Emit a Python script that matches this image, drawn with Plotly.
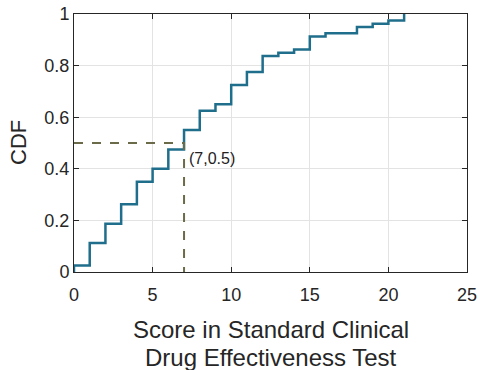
import plotly.graph_objects as go

scores = [0, 1, 2, 3, 4, 5, 6, 7, 8, 9, 10, 11, 12, 13, 14, 15, 16, 18, 19, 20, 21]
cdf_vals = [0.025, 0.1125, 0.1875, 0.2625, 0.35, 0.4, 0.475, 0.55, 0.625, 0.65,
            0.725, 0.775, 0.8375, 0.85, 0.8625, 0.9125, 0.925, 0.95, 0.9625, 0.975, 1.0]
median_x = [7]
median_y = [0.5]
x_ticks = [0, 5, 10, 15, 20, 25]
y_ticks = [0, 0.2, 0.4, 0.6, 0.8, 1]
y_tick_text = ["0", "0.2", "0.4", "0.6", "0.8", "1"]
x_title_lines = ["Score in Standard Clinical", "Drug Effectiveness Test"]
y_title = "CDF"

# build stair coordinates
sx, sy = [scores[0]], [0.0]
for i, (x, y) in enumerate(zip(scores, cdf_vals)):
    sx.append(x); sy.append(y)
    if i + 1 < len(scores):
        sx.append(scores[i + 1]); sy.append(y)

FONT = "Liberation Sans, Arial, Helvetica, sans-serif"
TXT = "#262626"
fig = go.Figure()
fig.add_trace(go.Scatter(x=sx, y=sy, mode="lines",
                         line=dict(color="#1f6e8c", width=2.5),
                         showlegend=False, hoverinfo="skip", cliponaxis=False))
fig.add_trace(go.Scatter(x=[0, median_x[0], median_x[0]], y=[median_y[0], median_y[0], 0],
                         mode="lines", line=dict(color="#6b6b4a", width=2, dash="dash"),
                         showlegend=False, hoverinfo="skip"))
fig.add_annotation(x=median_x[0], y=median_y[0], text="(7,0.5)", showarrow=False,
                   xanchor="left", yanchor="top", xshift=3, yshift=-5,
                   font=dict(family=FONT, size=16, color="#222222"))
# y-axis title
fig.add_annotation(xref="paper", yref="paper", x=0, y=0.5, text=y_title, textangle=-90,
                   showarrow=False, xanchor="center", yanchor="middle", xshift=-56,
                   font=dict(family=FONT, size=22, color=TXT))
# x-axis title (two lines)
for k, line in enumerate(x_title_lines):
    fig.add_annotation(xref="paper", yref="paper", x=0.5, y=0, text=line, showarrow=False,
                       xanchor="center", yanchor="middle", yshift=-57.5 - 27.5 * k,
                       font=dict(family=FONT, size=24, color=TXT))

axis_common = dict(showline=True, mirror="ticks", linecolor=TXT, linewidth=1,
                   ticks="inside", ticklen=5, tickcolor=TXT, automargin=False,
                   ticklabeloverflow="allow",
                   showgrid=True, gridcolor="#e3e3e3", gridwidth=1, zeroline=False,
                   tickfont=dict(family=FONT, size=18, color=TXT))
fig.update_xaxes(range=[0, 25], tickvals=x_ticks, ticklabelstandoff=6, **axis_common)
fig.update_yaxes(range=[0, 1], tickvals=y_ticks, ticktext=y_tick_text, **axis_common)
fig.update_layout(width=480, height=370, plot_bgcolor="white", paper_bgcolor="white",
                  margin=dict(l=74, r=13, t=14, b=98))
# remove the browser's default 8px body margin so the figure fills the window exactly
fig.write_html("out.html", config={"displayModeBar": False},
               post_script="document.body.style.margin='0';")
